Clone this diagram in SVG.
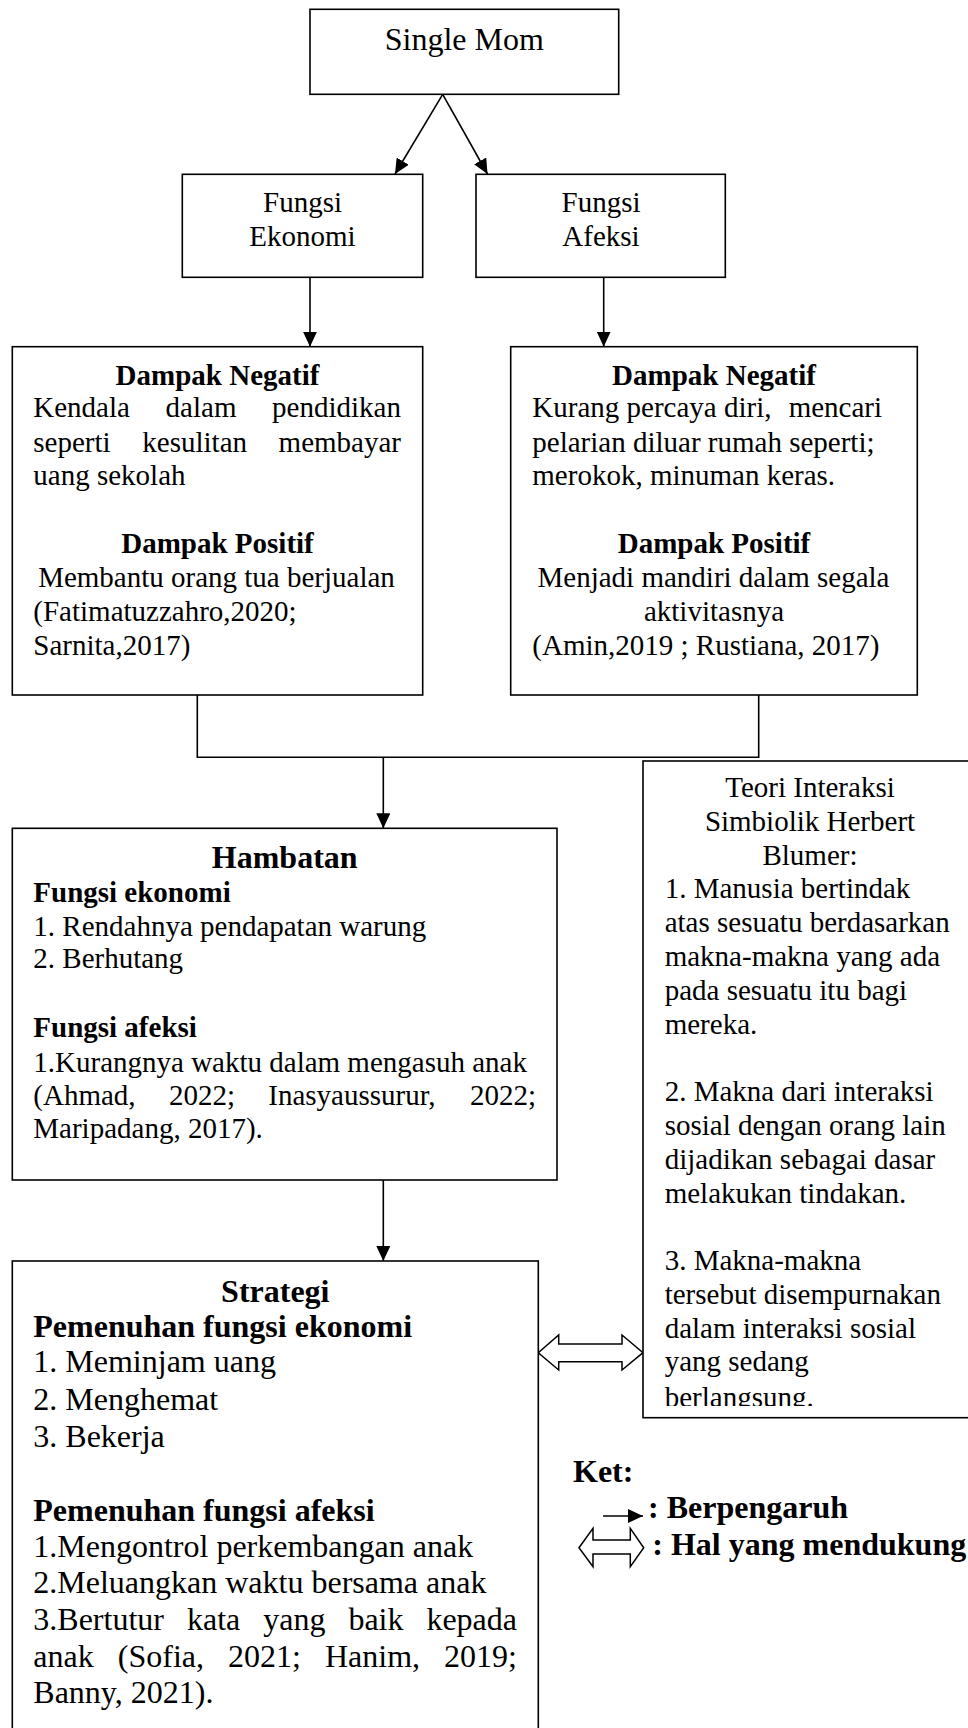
<svg xmlns="http://www.w3.org/2000/svg" width="968" height="1728" viewBox="0 0 968 1728">
<style>
  .box { fill: #fff; stroke: #000; stroke-width: 1.6; }
  .ln { fill: none; stroke: #000; stroke-width: 1.6; }
  .t { font-family: "Liberation Serif", "Times New Roman", serif; font-size: 29px; fill: #000; }
  .b { font-weight: bold; }
  .big { font-size: 32px; }
  .c { text-anchor: middle; }
  .e { text-anchor: end; }
  .dbl { fill: #fff; stroke: #000; stroke-width: 1.5; stroke-linejoin: miter; }
</style>
<defs>
  <marker id="ah" markerUnits="userSpaceOnUse" markerWidth="15" markerHeight="14" refX="15" refY="7" orient="auto">
    <path d="M0,0 L15,7 L0,14 z" fill="#000"/>
  </marker>
  <clipPath id="teoriClip"><rect x="640" y="758" width="340" height="648"/></clipPath>
</defs>
<rect width="968" height="1728" fill="#fff"/>

<g id="connectors">
  <line class="ln" x1="442.7" y1="94.3" x2="395" y2="174" marker-end="url(#ah)"/>
  <line class="ln" x1="442.7" y1="94.3" x2="487.5" y2="174" marker-end="url(#ah)"/>
  <line class="ln" x1="310" y1="277.3" x2="310" y2="346.7" marker-end="url(#ah)"/>
  <line class="ln" x1="603.7" y1="277.3" x2="603.7" y2="346.7" marker-end="url(#ah)"/>
  <polyline class="ln" points="197.3,695 197.3,757.3 758.7,757.3 758.7,692.7"/>
  <line class="ln" x1="383.3" y1="757.3" x2="383.3" y2="828.3" marker-end="url(#ah)"/>
  <line class="ln" x1="383.3" y1="1180" x2="383.3" y2="1261" marker-end="url(#ah)"/>
  <polygon class="dbl" points="538.3,1352.7 558.7,1335 558.7,1344 622,1344 622,1335 643,1352.7 622,1370 622,1361.7 558.7,1361.7 558.7,1370"/>
</g>

<g id="single-mom">
  <rect class="box" x="310" y="9.3" width="308.7" height="85"/>
  <text class="t big c" x="464.3" y="50">Single Mom</text>
</g>

<g id="fungsi-ekonomi">
  <rect class="box" x="182.3" y="174.3" width="240.4" height="103"/>
  <text class="t c" x="302.5" y="211.7">Fungsi</text>
  <text class="t c" x="302.5" y="246">Ekonomi</text>
</g>

<g id="fungsi-afeksi">
  <rect class="box" x="476" y="174.3" width="249.3" height="103"/>
  <text class="t c" x="601" y="211.7">Fungsi</text>
  <text class="t c" x="601" y="246">Afeksi</text>
</g>

<g id="dampak-ekonomi">
  <rect class="box" x="12.3" y="346.7" width="410.4" height="348.3"/>
  <text class="t b c" x="217.5" y="385">Dampak Negatif</text>
  <text class="t" y="417.3"><tspan x="33.3">Kendala</tspan><tspan x="165.6">dalam</tspan><tspan x="272.1">pendidikan</tspan></text>
  <text class="t" y="451.7"><tspan x="33.3">seperti</tspan><tspan x="142.3">kesulitan</tspan><tspan x="278.6">membayar</tspan></text>
  <text class="t" x="33.3" y="485">uang sekolah</text>
  <text class="t b c" x="217.5" y="553.3">Dampak Positif</text>
  <text class="t c" x="216.5" y="586.7">Membantu orang tua berjualan</text>
  <text class="t" x="33.3" y="620.7">(Fatimatuzzahro,2020;</text>
  <text class="t" x="33.3" y="655">Sarnita,2017)</text>
</g>

<g id="dampak-afeksi">
  <rect class="box" x="510.7" y="346.7" width="406.6" height="348.3"/>
  <text class="t b c" x="714" y="385">Dampak Negatif</text>
  <text class="t" y="417.3"><tspan x="532.3">Kurang percaya diri,</tspan><tspan x="788.7">mencari</tspan></text>
  <text class="t" x="532.3" y="451.7">pelarian diluar rumah seperti;</text>
  <text class="t" x="532.3" y="485">merokok, minuman keras.</text>
  <text class="t b c" x="714" y="553.3">Dampak Positif</text>
  <text class="t c" x="713.5" y="587.3">Menjadi mandiri dalam segala</text>
  <text class="t c" x="714" y="620.7">aktivitasnya</text>
  <text class="t" x="532.3" y="655">(Amin,2019 ; Rustiana, 2017)</text>
</g>

<g id="teori">
  <rect class="box" x="643" y="761" width="334" height="656.7"/>
  <g clip-path="url(#teoriClip)">
    <text class="t c" x="810" y="796.7">Teori Interaksi</text>
    <text class="t c" x="810" y="830.6">Simbiolik Herbert</text>
    <text class="t c" x="810" y="864.5">Blumer:</text>
    <text class="t" x="664.7" y="898.4">1. Manusia bertindak</text>
    <text class="t" x="664.7" y="932.3">atas sesuatu berdasarkan</text>
    <text class="t" x="664.7" y="966.2">makna-makna yang ada</text>
    <text class="t" x="664.7" y="1000.1">pada sesuatu itu bagi</text>
    <text class="t" x="664.7" y="1034">mereka.</text>
    <text class="t" x="664.7" y="1101.2">2. Makna dari interaksi</text>
    <text class="t" x="664.7" y="1135.1">sosial dengan orang lain</text>
    <text class="t" x="664.7" y="1169">dijadikan sebagai dasar</text>
    <text class="t" x="664.7" y="1202.9">melakukan tindakan.</text>
    <text class="t" x="664.7" y="1270.1">3. Makna-makna</text>
    <text class="t" x="664.7" y="1304">tersebut disempurnakan</text>
    <text class="t" x="664.7" y="1337.9">dalam interaksi sosial</text>
    <text class="t" x="664.7" y="1371.4">yang sedang</text>
    <text class="t" x="664.7" y="1406.9">berlangsung.</text>
  </g>
</g>

<g id="hambatan">
  <rect class="box" x="12.3" y="828.3" width="544.7" height="351.7"/>
  <text class="t b big c" x="284.7" y="868.3">Hambatan</text>
  <text class="t b" x="33.3" y="901.7">Fungsi ekonomi</text>
  <text class="t" x="33.3" y="936">1. Rendahnya pendapatan warung</text>
  <text class="t" x="33.3" y="968.3">2. Berhutang</text>
  <text class="t b" x="33.3" y="1036.7">Fungsi afeksi</text>
  <text class="t" x="33.3" y="1071.7">1.Kurangnya waktu dalam mengasuh anak</text>
  <text class="t" y="1105"><tspan x="33.3">(Ahmad,</tspan><tspan x="168.9">2022;</tspan><tspan x="268.3">Inasyaussurur,</tspan><tspan x="469.9">2022;</tspan></text>
  <text class="t" x="33.3" y="1138.3">Maripadang, 2017).</text>
</g>

<g id="strategi">
  <rect class="box" x="12.3" y="1261" width="526" height="520"/>
  <text class="t b big c" x="275.3" y="1301.7">Strategi</text>
  <text class="t b big" x="33.3" y="1336.7">Pemenuhan fungsi ekonomi</text>
  <text class="t big" x="33.3" y="1372">1. Meminjam uang</text>
  <text class="t big" x="33.3" y="1410">2. Menghemat</text>
  <text class="t big" x="33.3" y="1446.5">3. Bekerja</text>
  <text class="t b big" x="33.3" y="1521">Pemenuhan fungsi afeksi</text>
  <text class="t big" x="33.3" y="1557">1.Mengontrol perkembangan anak</text>
  <text class="t big" x="33.3" y="1593.3">2.Meluangkan waktu bersama anak</text>
  <text class="t big" y="1630"><tspan x="33.3">3.Bertutur</tspan><tspan x="187">kata</tspan><tspan x="263.2">yang</tspan><tspan x="348.4">baik</tspan><tspan x="426.4">kepada</tspan></text>
  <text class="t big" y="1666.7"><tspan x="33.3">anak</tspan><tspan x="117.8">(Sofia,</tspan><tspan x="228">2021;</tspan><tspan x="325">Hanim,</tspan><tspan x="444.1">2019;</tspan></text>
  <text class="t big" x="33.3" y="1703">Banny, 2021).</text>
</g>

<g id="legend">
  <text class="t b big" x="573" y="1481.7">Ket:</text>
  <line class="ln" x1="603" y1="1516" x2="643" y2="1516" marker-end="url(#ah)"/>
  <text class="t b big" x="648" y="1518.3">: Berpengaruh</text>
  <polygon class="dbl" points="579,1547.7 593,1528.3 593,1540 630.3,1540 630.3,1528.3 643.7,1547.7 630.3,1566.7 630.3,1554 593,1554 593,1566.7"/>
  <text class="t b big" x="652.3" y="1555">: Hal yang mendukung</text>
</g>
</svg>
